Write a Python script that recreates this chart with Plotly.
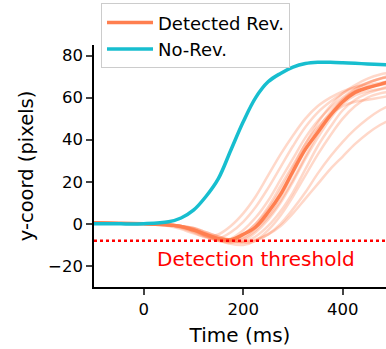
import plotly.graph_objects as go

# time grid (ms)
time_ms = [-100, -50, 0, 50, 75, 100, 125, 150, 175, 200, 225, 250, 275, 300,
           325, 350, 375, 400, 425, 450, 475, 500]

no_rev = [0, 0, 0.1, 1, 2.8, 6.5, 13, 21.5, 35, 48.5, 60, 67.5, 71.5, 74.5,
          76.2, 76.8, 76.8, 76.6, 76.3, 76.0, 75.7, 75.5]

detected_mean = [0.5, 0.3, 0, -0.5, -1.2, -3, -5, -7, -7.5, -5, -1.5, 5.5, 14, 25,
                 35.5, 43.5, 51.5, 58, 62.5, 64.7, 66.3, 68]

trials = [
    [0.5, 0.3, 0, -1.0, -2.5, -4.5, -6, -5, -1, 5, 13, 23, 33, 42, 50, 56, 60, 63, 65, 66, 67, 68],
    [0.6, 0.3, 0, -0.8, -2.0, -4, -6.5, -7, -4, 1, 8, 17, 27, 37, 46, 53, 58, 62, 65, 67, 69, 70],
    [0.4, 0.2, 0, -0.6, -1.6, -3.5, -6, -8, -7, -3, 3, 11, 21, 31, 41, 49, 55, 60, 64, 67, 69, 71],
    [0.5, 0.3, 0, -0.5, -1.4, -3, -5.5, -7.5, -8, -5, 0, 7, 16, 27, 38, 48, 56, 62, 66, 69, 71, 72],
    [0.5, 0.2, 0, -0.4, -1.2, -2.5, -5, -7, -8.5, -6.5, -2, 4, 13, 24, 35, 45, 53, 59, 63, 65, 66, 67],
    [0.4, 0.3, 0, -0.6, -1.5, -3, -5.5, -8, -9, -8, -4, 2, 10, 20, 31, 41, 50, 57, 61, 63, 64, 65],
    [0.5, 0.3, 0, -0.3, -1.0, -2, -4.5, -6.5, -8, -8.5, -6, -1, 6, 15, 26, 37, 46, 54, 59, 62, 64, 66],
    [0.5, 0.2, 0, -0.5, -1.3, -2.5, -5, -7.5, -9.5, -10, -8, -3, 4, 13, 23, 33, 42, 50, 56, 60, 62, 63],
    [0.4, 0.3, 0, -0.4, -1.0, -2, -4, -6, -8, -9, -8, -5, 0, 7, 15, 24, 32, 39, 45, 50, 54, 57],
    [0.5, 0.2, 0, -0.4, -1.0, -2, -4, -6, -7.5, -8.5, -7.5, -5, -1, 5, 12, 19, 26, 32, 38, 43, 47, 50],
    [0.5, 0.3, 0, -0.6, -1.6, -3, -6, -8, -8, -5, 0, 8, 18, 28, 38, 46, 52, 56, 58, 59, 60, 61],
    [0.5, 0.3, 0, -0.5, -1.3, -2.5, -5, -7, -8, -7, -3, 3, 11, 21, 32, 43, 52, 59, 64, 67, 69, 70],
]

threshold_x = [-100, 500]
threshold_y = [-8, -8]

x_ticks = [0, 200, 400]
y_ticks = [-20, 0, 20, 40, 60, 80]

CORAL = "#ff7f50"
TEAL = "#17becf"
FONT = "DejaVu Sans"

fig = go.Figure()

for tr in trials:
    fig.add_trace(go.Scatter(x=time_ms, y=tr, mode="lines", showlegend=False,
                             line=dict(color=CORAL, width=2.5, shape="spline"),
                             opacity=0.3, hoverinfo="skip"))

fig.add_trace(go.Scatter(x=time_ms, y=detected_mean, mode="lines", name="Detected Rev.",
                         line=dict(color=CORAL, width=3.5, shape="spline")))
fig.add_trace(go.Scatter(x=time_ms, y=no_rev, mode="lines", name="No-Rev.",
                         line=dict(color=TEAL, width=3.5, shape="spline")))
fig.add_trace(go.Scatter(x=threshold_x, y=threshold_y, mode="lines", showlegend=False,
                         line=dict(color="red", width=2.5, dash="dot")))

fig.add_annotation(x=225, y=-16.8, text="Detection threshold", showarrow=False,
                   font=dict(family=FONT, size=20, color="red"),
                   xanchor="center", yanchor="middle")

fig.update_layout(
    width=386, height=349,
    margin=dict(l=94, r=0, t=45, b=62),
    plot_bgcolor="white", paper_bgcolor="white",
    font=dict(family=FONT, color="black"),
    legend=dict(x=0.024, y=1.172, xanchor="left", yanchor="top",
                bgcolor="white", bordercolor="#cccccc", borderwidth=1,
                font=dict(family=FONT, size=18, color="black"),
                itemwidth=46, tracegroupgap=0,
                traceorder="normal"),
)
fig.update_xaxes(range=[-100, 487], tickvals=x_ticks, ticks="outside", ticklen=6,
                 tickwidth=1.5, showline=True, linecolor="black", linewidth=1.5,
                 showgrid=False, zeroline=False, tickfont=dict(size=16.5),
                 title=dict(text="Time (ms)", font=dict(size=20), standoff=10))
fig.update_yaxes(range=[-30, 85], tickvals=y_ticks, ticks="outside", ticklen=6,
                 tickwidth=1.5, showline=True, linecolor="black", linewidth=1.5,
                 showgrid=False, zeroline=False, tickfont=dict(size=16.5),
                 title=dict(text="y-coord (pixels)", font=dict(size=19.5), standoff=9))

fig.write_html("out.html")
